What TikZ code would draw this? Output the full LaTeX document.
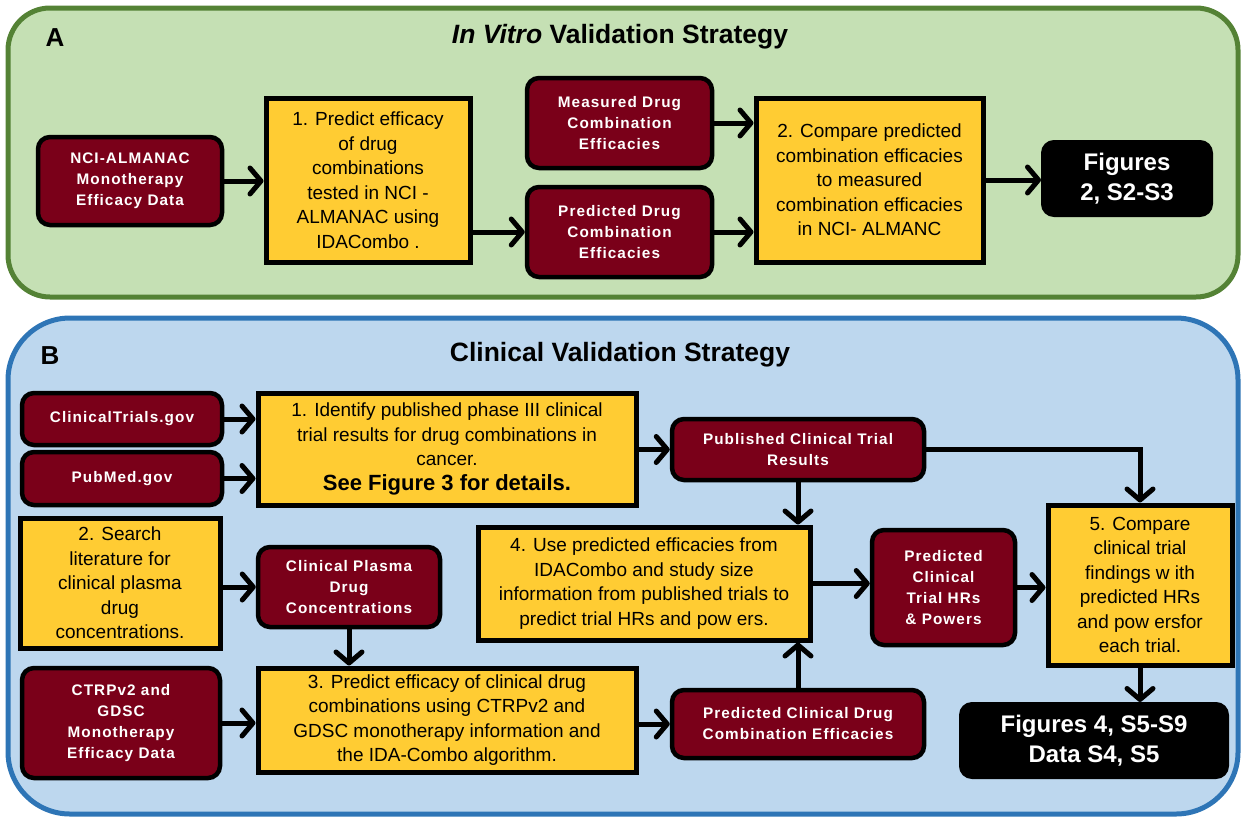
\documentclass[tikz,border=0pt]{standalone}
\usepackage{fontspec}
\setmainfont{Liberation Sans}
\newfontfamily\mfont[LetterSpace=7]{Liberation Sans}
\usetikzlibrary{arrows.meta}
\definecolor{maroon}{RGB}{122,0,25}
\definecolor{yel}{RGB}{255,204,51}
\definecolor{gfill}{RGB}{197,224,180}
\definecolor{gline}{RGB}{84,130,53}
\definecolor{bfill}{RGB}{189,215,238}
\definecolor{bline}{RGB}{46,117,182}
\begin{document}
\begin{tikzpicture}[x=1pt,y=-1pt,
  mbox/.style={draw=black, line width=4.5pt, fill=maroon, rounded corners=12pt, text=white, align=center, inner sep=0pt, font=\mfont\bfseries\fontsize{15.3}{21}\selectfont},
  ybox/.style={draw=black, line width=5pt, fill=yel, align=center, inner sep=0pt, font=\fontsize{19}{24.5}\selectfont},
  kbox/.style={draw=black, line width=2pt, fill=black, rounded corners=12pt, text=white, align=center, inner sep=0pt, font=\bfseries\fontsize{24}{30}\selectfont},
  arr/.style={line width=5pt, -{Straight Barb[length=11pt,width=26pt,round]}},
  panellabel/.style={font=\bfseries\fontsize{26}{30}\selectfont},
  paneltitle/.style={font=\bfseries\fontsize{26.5}{30}\selectfont}
]
\useasboundingbox (0,0) rectangle (1241,817);
% panels
\draw[fill=gfill, draw=gline, line width=5pt, rounded corners=42pt] (8,8) rectangle (1238,297);
\draw[fill=bfill, draw=bline, line width=5pt, rounded corners=62pt] (8,318) rectangle (1238,814);
\node[panellabel] (labA) at (55,38) {A};
\node[paneltitle] (titA) at (620,37) {\textit{In Vitro} Validation Strategy};
\node[panellabel] (labB) at (50,356) {B};
\node[paneltitle] (titB) at (620,355) {Clinical Validation Strategy};

% Panel A
\node[mbox, minimum width=184pt, minimum height=88pt] (nci) at (130,181) {NCI-ALMANAC\\Monotherapy\\Efficacy Data};
\node[ybox, minimum width=204pt, minimum height=164pt] (s1a) at (368,180) {1. Predict efficacy\\of drug\\combinations\\tested in NCI -\\ALMANAC using\\IDACombo .};
\node[mbox, minimum width=185pt, minimum height=90pt] (meas) at (619.5,123) {Measured Drug\\Combination\\Efficacies};
\node[mbox, minimum width=185pt, minimum height=90pt] (preda) at (619.5,232) {Predicted Drug\\Combination\\Efficacies};
\node[ybox, minimum width=227pt, minimum height=164pt] (s2a) at (869.5,180) {2. Compare predicted\\combination efficacies\\to measured\\combination efficacies\\in NCI- ALMANC};
\node[kbox, minimum width=170pt, minimum height=75pt] (figa) at (1127,178.5) {Figures\\2, S2-S3};

\draw[arr] (nci.east) -- (nci.east -| s1a.west);
\draw[arr] (s1a.east |- preda.west) -- (preda.west);
\draw[arr] (meas.east) -- (meas.east -| s2a.west);
\draw[arr] (preda.east) -- (preda.east -| s2a.west);
\draw[arr] (s2a.east) -- (s2a.east -| figa.west);

% Panel B
\node[mbox, minimum width=200pt, minimum height=52pt] (ct) at (122,419) {ClinicalTrials.gov};
\node[mbox, minimum width=200pt, minimum height=53pt] (pm) at (122,478.5) {PubMed.gov};
\node[ybox, minimum width=378pt, minimum height=112pt] (s1b) at (447,449) {1. Identify published phase III clinical\\trial results for drug combinations in\\cancer.\\\textbf{\fontsize{22}{25}\selectfont See Figure 3 for details.}};
\node[mbox, minimum width=252pt, minimum height=61pt] (pub) at (798,449.5) {Published Clinical Trial\\Results};
\node[ybox, minimum width=200pt, minimum height=130pt] (s2b) at (120,583) {2. Search\\literature for\\clinical plasma\\drug\\concentrations.};
\node[mbox, minimum width=182pt, minimum height=80pt] (plasma) at (349,587) {Clinical Plasma\\Drug\\Concentrations};
\node[ybox, minimum width=332pt, minimum height=113pt] (s4) at (644,583.5) {4. Use predicted efficacies from\\IDACombo and study size\\information from published trials to\\predict trial HRs and pow ers.};
\node[mbox, minimum width=143pt, minimum height=115pt] (predhr) at (943.5,587.5) {Predicted\\Clinical\\Trial HRs\\\& Powers};
\node[ybox, minimum width=184pt, minimum height=160pt] (s5) at (1140,585) {5. Compare\\clinical trial\\findings w ith\\predicted HRs\\and pow ersfor\\each trial.};
\node[mbox, minimum width=198pt, minimum height=110pt] (ctrp) at (121,723) {CTRPv2 and\\GDSC\\Monotherapy\\Efficacy Data};
\node[ybox, minimum width=378pt, minimum height=104pt] (s3) at (447,720) {3. Predict efficacy of clinical drug\\combinations using CTRPv2 and\\GDSC monotherapy information and\\the IDA-Combo algorithm.};
\node[mbox, minimum width=252pt, minimum height=68pt] (pce) at (798,724) {Predicted Clinical Drug\\Combination Efficacies};
\node[kbox, minimum width=268pt, minimum height=75pt] (figb) at (1094,740.5) {Figures 4, S5-S9\\Data S4, S5};

\draw[arr] (ct.east) -- (ct.east -| s1b.west);
\draw[arr] (pm.east) -- (pm.east -| s1b.west);
\draw[arr] (s1b.east |- pub.west) -- (pub.west);
\draw[arr] (pub.south) -- (pub.south |- s4.north);
\draw[arr] (pub.east) -| (s5.north);
\draw[arr] (s2b.east |- plasma.west) -- (plasma.west);
\draw[arr] (plasma.south) -- (plasma.south |- s3.north);
\draw[arr] (ctrp.east) -- (ctrp.east -| s3.west);
\draw[arr] (s3.east |- pce.west) -- (pce.west);
\draw[arr] (pce.north) -- (pce.north |- s4.south);
\draw[arr] (s4.east) -- (s4.east -| predhr.west);
\draw[arr] (predhr.east) -- (predhr.east -| s5.west);
\draw[arr] (s5.south) -- (s5.south |- figb.north);
\end{tikzpicture}
\end{document}
